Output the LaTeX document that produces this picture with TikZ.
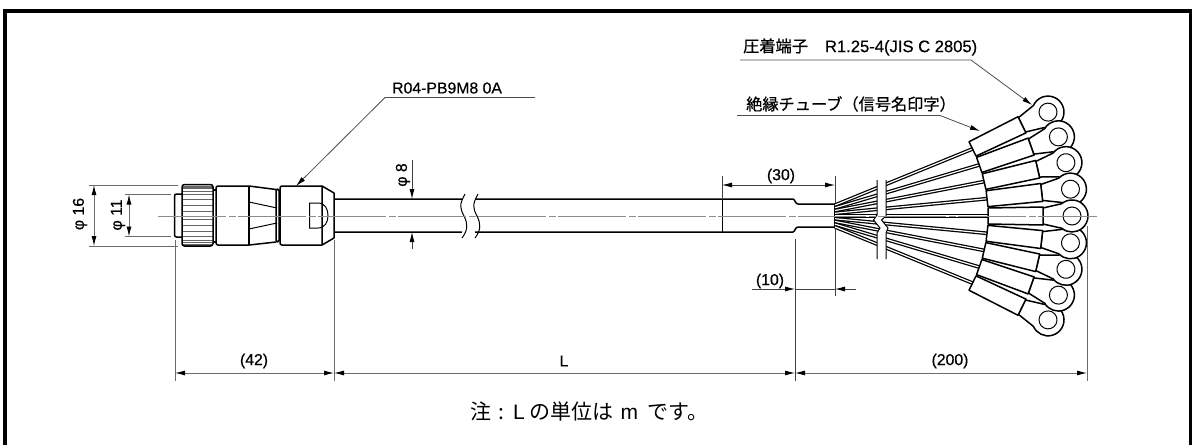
\documentclass[tikz,border=0pt]{standalone}
\usepackage{fontspec}
\usetikzlibrary{arrows.meta}
\setmainfont{Liberation Sans}
\newfontfamily\lab[FakeBold=0.5]{Liberation Sans}
\newfontfamily\plainlat{Liberation Sans}
\newfontfamily\cjkb[FakeBold=0.7]{Noto Sans CJK JP}
\newfontfamily\cjkn{Noto Sans CJK JP}
\definecolor{dimgrey}{gray}{0.42}
\tikzset{
  outline/.style={line width=1.5pt,black,line join=round},
  thinline/.style={line width=1pt,black},
  dimline/.style={line width=0.9pt,dimgrey},
  darkdim/.style={line width=0.8pt,black!75},
  dimarrow/.style={dimline,{Latex[length=10pt,width=5pt,black]}-{Latex[length=10pt,width=5pt,black]}},
  leader/.style={line width=0.8pt,black!70,-{Latex[length=10pt,width=5pt,black]}},
  txt/.style={inner sep=0pt,font=\lab\fontsize{15.8}{17}\selectfont},
  jtxt/.style={inner sep=0pt,font=\cjkb\fontsize{16.2}{18}\selectfont},
  centre/.style={line width=0.9pt,black!45,dash pattern=on 68pt off 3pt on 7pt off 2pt}
}
\begin{document}
\begin{tikzpicture}[x=1pt,y=-1pt]
\useasboundingbox (0,0) rectangle (1192,445);
% frame (open at the bottom)
\draw[line width=3.6pt,black] (5.2,445) -- (5.2,10.7) -- (1191.2,10.7) -- (1191.2,445);

% cable
\draw[outline] (334,199) -- (462,199) (475,199) -- (793,199) .. controls (795,199) and (795,204) .. (798,204) -- (835,204);
\draw[outline] (334,232) -- (462,232) (475,232) -- (793,232) .. controls (795,232) and (795,227) .. (798,227) -- (835,227);
\draw[line width=1.8pt] (835,204) -- (835,227);
\draw[thinline] (722,199) -- (722,232);
\draw[thinline] (465,194) .. controls (459,205) and (460,208) .. (464,216) .. controls (468,224) and (468,230) .. (462,238);
\draw[thinline] (478,194) .. controls (472,205) and (473,208) .. (477,216) .. controls (481,224) and (481,230) .. (475,238);

% connector
\draw[outline,rounded corners=2pt] (182,194) -- (174.5,194) -- (174.5,237) -- (182,237);
\foreach \t in {-80,-72,-64,-55,-45,-33,-20,-7,7,20,33,45,55,64,72,80}
  \draw[line width=0.8pt,black!60] (182,{215.5+30*sin(\t)}) -- (213,{215.5+30*sin(\t)});
\draw[outline,rounded corners=2.5pt] (182,184.5) rectangle (213,246);
\draw[outline,rounded corners=2pt] (213,190) -- (216,190) (213,242) -- (216,242);
\draw[outline,rounded corners=2pt] (249,186) -- (216,186) -- (216,245) -- (249,245);
\draw[outline] (249,186) -- (276,189.5) (249,245) -- (276,242);
\draw[outline] (249,186) -- (249,245);
\draw[thinline] (249,202) -- (277,208) (249,229) -- (277,223);
\draw[outline,rounded corners=1.5pt] (276,189) -- (279,189) -- (279,242) -- (276,242) -- cycle;
\draw[outline,rounded corners=2pt] (322,186) -- (280,186) -- (280,245) -- (322,245);
\draw[outline] (322,186) -- (334,193) -- (334,238) -- (322,245) -- cycle;
\draw[thinline] (318,203) -- (309.5,203) -- (309.5,228) -- (318,228) .. controls (325,228) and (328,222) .. (328,215.5) .. controls (328,209) and (325,203) .. (318,203) -- cycle;

% wires
\foreach \a in {26,19.5,13,6.5,0,-6.5,-13,-19.5,-26}{
  \pgfmathsetmacro{\ys}{216-\a*0.42}
  \pgfmathsetmacro{\xe}{835+153*cos(\a)}
  \pgfmathsetmacro{\ye}{216-153*sin(\a)}
  \draw[double=white,double distance=1.2pt,line width=1.25pt,black] (835,\ys) -- (\xe,\ye);
}
% wire break
\fill[white] (877,178) -- (877,215) -- (873.5,220) -- (880,228) -- (877,233) -- (877,261) -- (886,261) -- (886,233) -- (888,228) -- (881.5,220) -- (886,215) -- (886,178) -- cycle;
\draw[thinline] (877,180) -- (877,215) -- (873.5,220) -- (880,228) -- (877,233) -- (877,259);
\draw[thinline] (886,180) -- (886,216) -- (881.5,220) -- (888,228) -- (886,233) -- (886,259);

% ring terminals and marked tubes, outermost first
\foreach \a in {26,-26,19.5,-19.5,13,-13,6.5,-6.5,0}{
\begin{scope}[shift={(835pt,-216pt)},rotate=\a,x=1pt,y=1pt]
  \draw[outline,fill=white] (208,8) -- (226.7,12.3) arc[start angle=130,end angle=-130,radius=16] -- (208,-8) -- cycle;
  \draw[line width=1pt,fill=white] (237,0) circle[radius=9];
  \draw[outline,fill=white] (153,8) -- (208,9) -- (208,-9) -- (153,-8) -- cycle;
\end{scope}
}

% centre line
\draw[centre] (158,216) -- (1097,216);

% extension lines
\draw[dimline] (89,185) -- (178,185) (89,246) -- (178,246);
\draw[dimline] (125,194.5) -- (171,194.5) (125,236.5) -- (171,236.5);
\draw[dimline] (175,240) -- (175,381) (334,240) -- (334,381);
\draw[darkdim] (795,239) -- (795,381);
\draw[dimline] (1087,226) -- (1087,381);
\draw[darkdim] (722,176) -- (722,198) (835,176) -- (835,203) (835,228) -- (835,296) (795,239) -- (795,296);

% named dimension points
\coordinate (a16t) at (94,185); \coordinate (a16b) at (94,246);
\coordinate (a11t) at (129,194.5); \coordinate (a11b) at (129,236.5);
\coordinate (b1) at (175,373); \coordinate (b2) at (334,373); \coordinate (b3) at (795,373); \coordinate (b4) at (1087,373);
\coordinate (c1) at (722,185); \coordinate (c2) at (835,185);
\coordinate (d0) at (752,289); \coordinate (d1) at (795,289); \coordinate (d2) at (835,289); \coordinate (d3) at (856,289);
\coordinate (e0) at (412,160); \coordinate (e1) at (412,199); \coordinate (e2) at (412,232); \coordinate (e3) at (412,249);

\draw[dimarrow] (a16t) -- (a16b);
\draw[dimarrow] (a11t) -- (a11b);
\draw[dimarrow] (b1) -- (b2);
\draw[dimarrow] (b2) -- (b3);
\draw[dimarrow] (b3) -- (b4);
\draw[darkdim,{Latex[length=10pt,width=5pt,black]}-{Latex[length=10pt,width=5pt,black]}] (c1) -- (c2);
\draw[darkdim,-{Latex[length=10pt,width=5pt,black]}] (d0) -- (d1);
\draw[darkdim] (d1) -- (d2);
\draw[darkdim,-{Latex[length=10pt,width=5pt,black]}] (d3) -- (d2);
\draw[darkdim,-{Latex[length=10pt,width=5pt,black]}] (e0) -- (e1);
\draw[darkdim,-{Latex[length=10pt,width=5pt,black]}] (e3) -- (e2);

% dimension labels
\node[txt,rotate=90] (t16) at (80,214) {φ 16};
\node[txt,rotate=90] (t11) at (118,215) {φ 11};
\node[txt,rotate=90] (t8) at (403,175) {φ 8};
\node[txt] (t42) at (254,361) {(42)};
\node[txt] (tL) at (564,361) {L};
\node[txt] (t200) at (950,361) {(200)};
\node[txt] (t30) at (781,176) {(30)};
\node[txt] (t10) at (770,281) {(10)};

% callouts
\node[txt,anchor=west] (tR) at (392,88) {R04-PB9M8 0A};
\coordinate (l1a) at (535,97.5); \coordinate (l1b) at (385,97.5); \coordinate (l1c) at (296,186);
\draw[leader] (l1a) -- (l1b) -- (l1c);

\node[jtxt,anchor=west] (tCrimp) at (743,47) {圧着端子\hspace{17pt}{\lab\fontsize{16.6}{18}\selectfont R1.25-4(JIS C 2805)}};
\coordinate (l2a) at (740,60); \coordinate (l2b) at (971,60); \coordinate (l2c) at (1032,105);
\draw[leader] (l2a) -- (l2b) -- (l2c);

\node[jtxt,anchor=west] (tTube) at (746,104) {絶縁チューブ（信号名印字）};
\coordinate (l3a) at (737,115.5); \coordinate (l3b) at (940,115.5); \coordinate (l3c) at (980,131);
\draw[leader] (l3a) -- (l3b) -- (l3c);

% note
\node[inner sep=0pt,anchor=west,font=\cjkn\fontsize{21}{23}\selectfont] (tNote) at (470,412) {注\hspace{7pt}:\hspace{9pt}{\plainlat L}\hspace{5pt}の単位は\hspace{7pt}{\plainlat m}\hspace{9pt}です。};
\end{tikzpicture}
\end{document}
